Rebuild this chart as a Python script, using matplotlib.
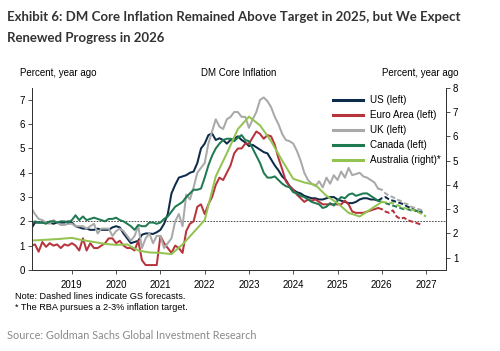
import matplotlib.pyplot as plt
import numpy as np

# monthly core inflation, % yoy, Feb 2018 - Dec 2025
us = [1.7, 1.95, 1.95, 1.95, 1.95, 1.95, 1.9, 1.95, 1.95, 1.95, 2.0,
      1.95, 1.8, 1.75, 1.7, 1.7, 1.65, 1.65, 1.7, 1.65, 1.65, 1.65, 1.75,
      1.8, 1.75, 1.5, 1.3, 1.1, 1.15, 1.2, 1.45, 1.5, 1.5, 1.48, 1.55,
      1.65, 1.9, 2.3, 3.15, 3.5, 3.8, 3.85, 3.9, 4.0, 4.05, 4.4, 5.0,
      5.2, 5.55, 5.62, 5.35, 5.42, 5.35, 5.2, 5.35, 5.4, 5.5, 5.35, 5.25,
      5.1, 5.15, 5.05, 4.95, 4.85, 4.8, 4.55, 4.3, 4.1, 3.85, 3.7, 3.45,
      3.3, 3.2, 3.15, 3.05, 3.0, 2.95, 2.95, 2.9, 2.9, 2.95, 3.0, 3.0,
      2.9, 2.85, 2.8, 2.75, 2.75, 2.8, 2.9, 2.95, 2.95, 2.9, 2.9, 2.85]
euro = [1.0, 1.05, 0.75, 1.15, 0.95, 1.1, 1.0, 1.05, 0.9, 1.05, 1.0,
        1.1, 1.0, 0.8, 1.3, 0.8, 1.1, 0.9, 0.9, 1.0, 1.1, 1.3, 1.3,
        1.1, 1.2, 1.0, 0.9, 0.9, 0.8, 1.2, 0.4, 0.2, 0.2, 0.2, 0.2,
        1.4, 1.1, 0.9, 0.7, 1.0, 0.9, 0.7, 1.6, 1.9, 2.0, 2.6, 2.7,
        2.3, 2.7, 3.0, 3.5, 3.8, 3.7, 4.0, 4.3, 4.8, 5.0, 5.0, 5.2,
        5.2, 5.45, 5.7, 5.6, 5.4, 5.55, 5.5, 5.15, 4.6, 4.15, 3.65, 3.45,
        3.3, 3.1, 2.95, 2.8, 2.9, 2.85, 2.9, 2.8, 2.7, 2.7, 2.7, 2.7,
        2.7, 2.7, 2.85, 2.7, 2.4, 2.35, 2.35, 2.35, 2.4, 2.45, 2.5, 2.55]
uk = [2.55, 2.3, 2.1, 2.05, 1.95, 1.9, 2.05, 1.95, 1.85, 1.85, 1.9,
      1.9, 1.8, 1.8, 1.8, 1.7, 1.8, 1.9, 1.5, 1.7, 1.7, 1.7, 1.4,
      1.6, 1.7, 1.6, 1.4, 1.2, 1.4, 1.8, 0.9, 1.3, 1.5, 1.1, 1.4,
      1.4, 0.9, 1.1, 1.3, 2.0, 2.3, 1.8, 3.1, 2.9, 3.4, 4.0, 4.2,
      4.4, 5.2, 5.7, 6.2, 5.9, 5.8, 6.2, 6.3, 6.5, 6.5, 6.3, 6.3,
      5.85, 6.2, 6.5, 7.0, 7.1, 6.95, 6.7, 6.3, 6.0, 5.6, 5.35, 5.3,
      5.2, 4.9, 4.5, 4.0, 3.7, 3.55, 3.45, 3.65, 3.4, 3.8, 3.55, 3.9,
      3.7, 4.05, 3.8, 4.2, 3.9, 3.95, 4.0, 3.85, 3.8, 3.7, 3.6, 3.35]
canada = [1.9, 2.0, 1.95, 1.95, 1.9, 2.0, 2.0, 1.95, 2.0, 2.0, 1.95,
          2.05, 2.25, 2.05, 2.2, 2.05, 2.1, 2.15, 2.1, 2.05, 2.0, 2.1, 2.1,
          2.15, 2.05, 2.0, 1.9, 1.8, 1.65, 1.85, 1.8, 1.8, 1.95, 1.95, 1.9,
          1.95, 2.1, 2.2, 2.4, 2.6, 2.7, 2.8, 3.0, 3.15, 3.3, 3.3, 3.35,
          3.8, 4.3, 4.7, 5.0, 5.2, 5.35, 5.4, 5.4, 5.3, 5.45, 5.55, 5.35,
          5.3, 5.0, 4.7, 4.4, 4.0, 3.8, 3.8, 3.85, 3.7, 3.55, 3.45, 3.4,
          3.2, 3.15, 3.05, 3.0, 2.9, 2.8, 2.75, 2.7, 2.55, 2.6, 2.75, 2.65,
          2.85, 3.0, 2.95, 3.1, 3.15, 3.05, 3.1, 3.15, 3.15, 3.05, 2.95, 2.85]

# GS forecasts, Jan - Dec 2026
us_fc = [2.95, 3.0, 2.9, 2.85, 2.8, 2.75, 2.7, 2.6, 2.55, 2.45, 2.4, 2.35]
euro_fc = [2.5, 2.4, 2.35, 2.45, 2.2, 2.1, 2.15, 2.05, 2.0, 1.95, 1.9, 1.85]
uk_fc = [3.3, 3.15, 3.05, 3.0, 2.9, 2.85, 2.75, 2.7, 2.6, 2.55, 2.5, 2.45]
canada_fc = [2.8, 2.75, 2.7, 2.65, 2.6, 2.55, 2.5, 2.5, 2.45, 2.45, 2.4, 2.4]

# Australia trimmed mean, quarterly (right axis)
aus_t = [2018.0, 2018.5, 2018.75, 2019.0, 2019.25, 2019.5, 2019.75, 2020.0,
         2020.25, 2020.5, 2020.75, 2021.0, 2021.25, 2021.5, 2021.75, 2022.0,
         2022.25, 2022.5, 2022.75, 2023.0, 2023.25, 2023.5, 2023.75, 2024.0,
         2024.25, 2024.5, 2024.75, 2025.0, 2025.25, 2025.5, 2025.75, 2026.0]
aus = [1.7, 1.75, 1.78, 1.82, 1.72, 1.65, 1.57, 1.53,
       1.55, 1.3, 1.22, 1.2, 1.15, 1.55, 2.05, 2.55,
       4.35, 5.3, 6.3, 6.81, 6.45, 5.8, 5.0, 4.25,
       4.1, 4.0, 3.55, 3.25, 2.85, 2.7, 3.0, 3.3]
aus_fc_t = [2026.0, 2026.25, 2026.5, 2026.75, 2027.0]
aus_fc = [3.3, 3.25, 3.05, 2.95, 2.7]

colors = {'US': '#0d2b4a', 'Euro Area': '#b8343c', 'UK': '#a9a9a9',
          'Canada': '#1f7a52', 'Australia': '#93c451'}

t = 2018 + (1 + np.arange(len(us))) / 12
t_fc = np.concatenate([[t[-1]], 2026 + np.arange(12) / 12])

plt.rcParams['font.family'] = ['Liberation Sans', 'DejaVu Sans']
fig = plt.figure(figsize=(5.0, 3.51), dpi=100)
ax = fig.add_axes([0.064, 0.231, 0.828, 0.519])
ax2 = ax.twinx()

lw = 1.45
dash = (0, (2.5, 1.2))
series = [('US', us, us_fc), ('Euro Area', euro, euro_fc),
          ('UK', uk, uk_fc), ('Canada', canada, canada_fc)]
for name, vals, fc in series:
    c = colors[name]
    ax.plot(t, vals, color=c, lw=lw, label=name + ' (left)')
    ax.plot(t_fc, [vals[-1]] + fc, color=c, lw=lw, linestyle=dash)

ax2.plot(aus_t, aus, color=colors['Australia'], lw=lw, label='Australia (right)*')
ax2.plot(aus_fc_t, aus_fc, color=colors['Australia'], lw=lw, linestyle=dash)

ax.axhline(2, color='#333333', lw=0.6, linestyle=(0, (2, 1.5)), zorder=0)

ax.set_xlim(2018.1, 2027.45)
ax.set_ylim(0, 7.5)
ax2.set_ylim(0.5, 8.0)
ax.set_xticks(range(2019, 2028))
ax.set_yticks(range(0, 8))
ax2.set_yticks(range(1, 9))

for a in (ax, ax2):
    a.spines['top'].set_visible(False)
    a.tick_params(labelsize=7, length=3, width=0.6, color='#333333', pad=2)
    for s in a.spines.values():
        s.set_linewidth(0.7)
        s.set_color('#333333')
ax.tick_params(axis='x', pad=4)

ax.text(-0.03, 1.065, 'Percent, year ago', transform=ax.transAxes, fontsize=7, ha='left')
ax.text(0.5, 1.065, 'DM Core Inflation', transform=ax.transAxes, fontsize=7, ha='center')
ax.text(1.03, 1.065, 'Percent, year ago', transform=ax.transAxes, fontsize=7, ha='right')

h1, l1 = ax.get_legend_handles_labels()
h2, l2 = ax2.get_legend_handles_labels()
leg = ax2.legend(h1 + h2, l1 + l2, loc='upper left', bbox_to_anchor=(0.718, 0.98),
                 frameon=False, fontsize=7.1, handlelength=3.0, handletextpad=0.7,
                 labelspacing=0.5, borderaxespad=0)
for h in leg.get_lines():
    h.set_linewidth(2.2)

fig.text(0.014, 0.952, 'Exhibit 6: DM Core Inflation Remained Above Target in 2025, but We Expect',
         fontsize=9.5, fontweight='bold', color='#333333', family='Lato', va='center')
fig.text(0.014, 0.892, 'Renewed Progress in 2026',
         fontsize=9.5, fontweight='bold', color='#333333', family='Lato', va='center')
fig.text(0.030, 0.154, 'Note: Dashed lines indicate GS forecasts.', fontsize=6.6, va='center')
fig.text(0.030, 0.125, '* The RBA pursues a 2-3% inflation target.', fontsize=6.6, va='center')
fig.text(0.014, 0.045, 'Source: Goldman Sachs Global Investment Research', fontsize=7.8,
         color='#8a8a8a', family='Lato', va='center')

fig.savefig('out.png', dpi=100)
